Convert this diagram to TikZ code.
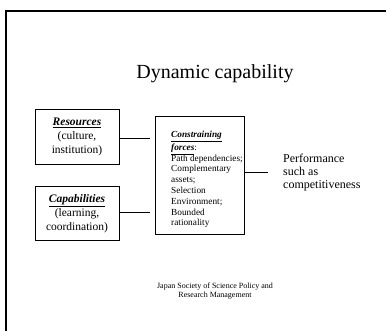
\documentclass[tikz,border=0pt]{standalone}
\usepackage{fontspec}
\setmainfont{Liberation Serif}
\begin{document}
\begin{tikzpicture}[x=1pt,y=-1pt,
  box/.style={draw, line width=1pt, inner sep=0pt},
  conn/.style={line width=0.8pt},
  frameline/.style={line width=1.6pt},
  hd/.style={font=\fontsize{11.5}{14}\selectfont, align=center},
]
\useasboundingbox (0,0) rectangle (386,331);
% frame
\coordinate (tl) at (6,11);
\coordinate (tr) at (386,11);
\coordinate (bl) at (6,331);
\draw[frameline] (tr) -- (tl) -- (bl);
% title
\node[font=\fontsize{20}{23}\selectfont] (title) at (215,74) {Dynamic capability};
% boxes
\node[box, minimum width=84pt, minimum height=55pt] (res) at (77,137.5) {};
\node[hd] (rest) at (77,137) {\underline{\textbf{\textit{Resources}}}\\(culture,\\institution)};
\node[box, minimum width=84pt, minimum height=54pt] (cap) at (77,214) {};
\node[hd] (capt) at (77,214) {\underline{\textbf{\textit{Capabilities}}}\\(learning,\\coordination)};
\node[box, minimum width=89pt, minimum height=118pt] (cf) at (199.5,176) {};
\node[anchor=west, inner sep=0pt, align=left, font=\fontsize{9.3}{10.8}\selectfont] (cft) at (171,179.5)
  {\underline{\textbf{\textit{Constraining}}}\\[2pt]\underline{\textbf{\textit{forces}}}:\\Path dependencies;\\Complementary\\assets;\\Selection\\Environment;\\Bounded\\rationality};
\node[anchor=west, inner sep=0pt, align=left, font=\fontsize{12}{13}\selectfont] (perf) at (283,173)
  {Performance\\such as\\competitiveness};
% connectors
\coordinate (r1) at (150,138);
\coordinate (c1) at (150,212);
\coordinate (p1) at (268,172);
\draw[conn] (res.east |- r1) -- (r1);
\draw[conn] (cap.east |- c1) -- (c1);
\draw[conn] (cf.east |- p1) -- (p1);
% footer
\node[align=center, font=\fontsize{8}{9}\selectfont] (foot) at (215,291.5)
  {Japan Society of Science Policy and\\Research Management};
\end{tikzpicture}
\end{document}
